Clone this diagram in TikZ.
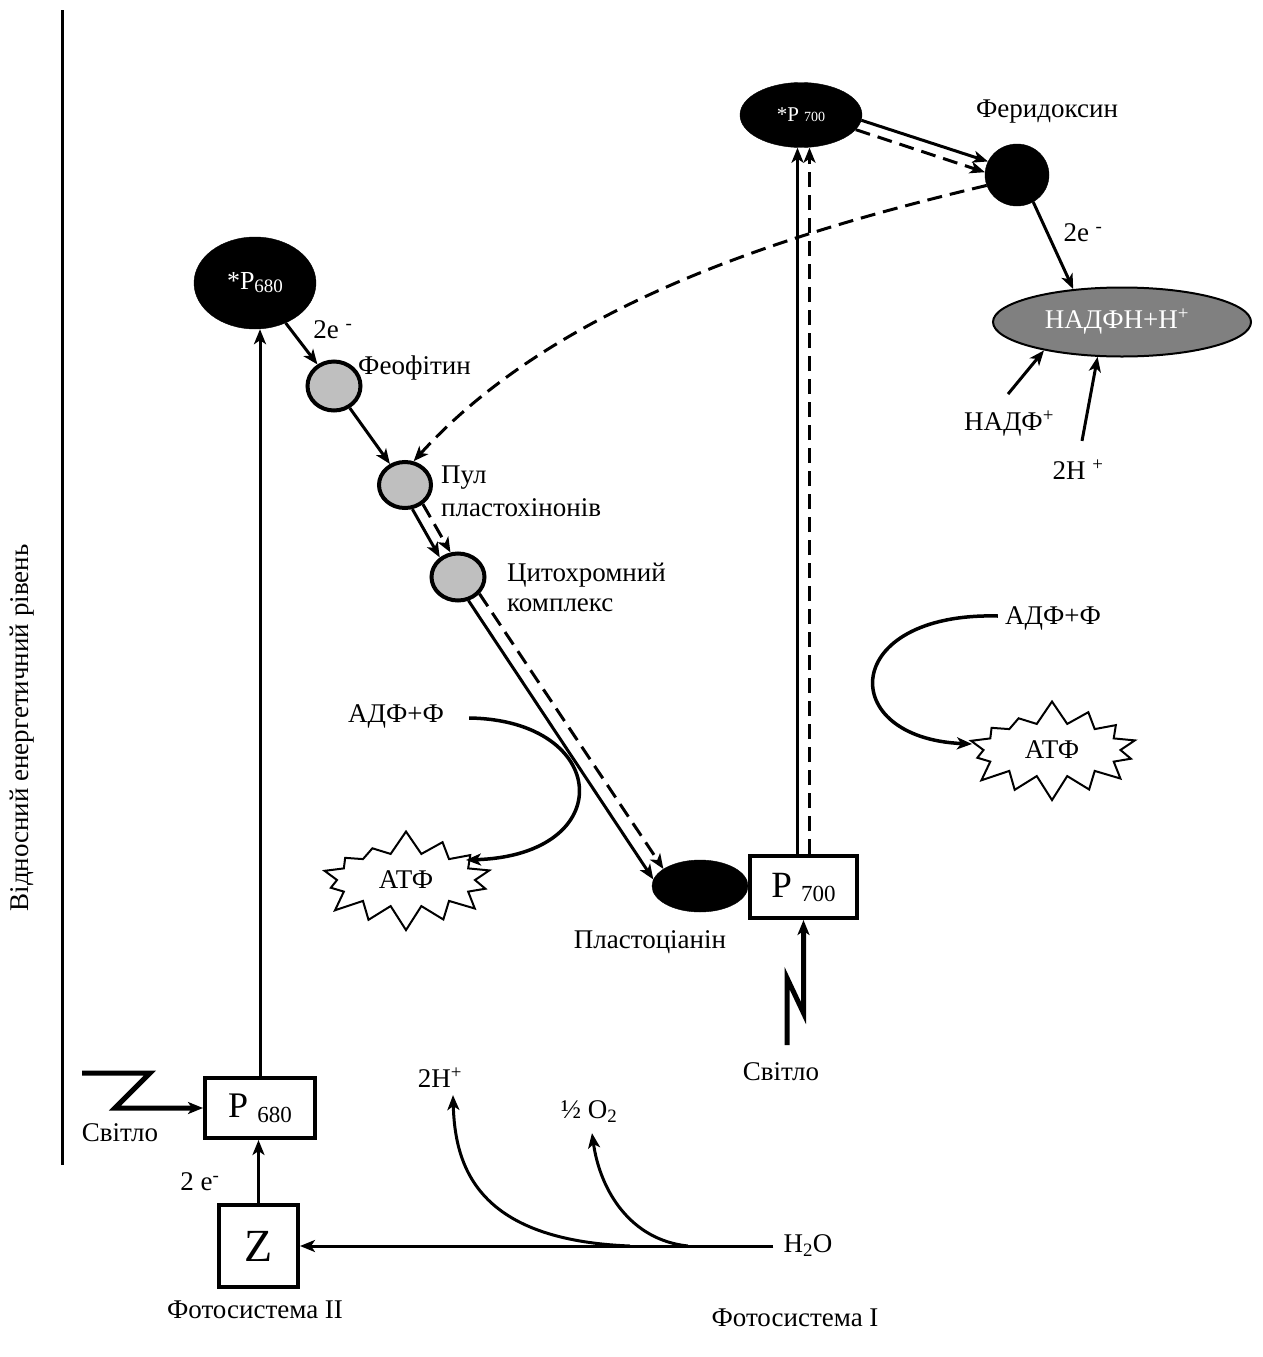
\documentclass[tikz,border=0pt]{standalone}
\usepackage{fontspec}
\setmainfont{Liberation Serif}
\usetikzlibrary{arrows.meta,shapes.geometric,shapes.symbols}
\newcommand\setfs[1]{\fontsize{#1}{#1}\selectfont}
\begin{document}
\begin{tikzpicture}[x=1pt,y=-1pt,
  >={Stealth[length=15pt,width=12pt,inset=4pt]},
  flow/.style={->,line width=3pt},
  dflow/.style={->,line width=3pt,dash pattern=on 15pt off 8pt},
  curl/.style={->,line width=3.5pt},
  txt/.style={inner sep=0pt,font=\setfs{27}},
  darkell/.style={ellipse,fill=black,draw=black,inner sep=0pt,text=white},
  carrier/.style={ellipse,fill=gray!50,draw=black,line width=4pt,inner sep=0pt},
  centre/.style={rectangle,draw=black,line width=4pt,fill=white,inner sep=0pt},
  burst/.style={starburst,draw=black,line width=2pt,fill=white,starburst points=14,
    starburst point height=24pt,random starburst=7,inner xsep=14pt,inner ysep=10pt,
    font=\setfs{27}},
  bolt/.style={->,line width=5pt,miter limit=10},
]
\useasboundingbox (0,0) rectangle (1262,1357);

% energy axis
\draw[line width=3pt] (62,10) -- (62,1165);
\node[txt,rotate=90] (axis) at (22,728) {Відносний енергетичний рівень};

% photosystem II
\node[centre,minimum width=110pt,minimum height=60pt] (p680) at (260,1108)
  {\setfs{36}P \raisebox{-5pt}{\setfs{23}680}};
\node[centre,minimum width=79pt,minimum height=82pt] (z) at (258.5,1246) {\setfs{46}Z};
\node[darkell,minimum width=122pt,minimum height=92pt] (sp680) at (255,283)
  {\setfs{26}*P\raisebox{-3pt}{\setfs{19}680}};

% electron carriers
\node[carrier,minimum width=53pt,minimum height=49pt] (feo) at (334,386) {};
\node[carrier,minimum width=52pt,minimum height=46pt] (pool) at (405,485) {};
\node[carrier,minimum width=53pt,minimum height=47pt] (cyto) at (458,577) {};
\node[darkell,minimum width=96pt,minimum height=52pt] (pc) at (700,886) {};

% photosystem I
\node[centre,minimum width=107pt,minimum height=62pt] (p700) at (803.5,887)
  {\setfs{37}P \raisebox{-4pt}{\setfs{23}700}};
\node[darkell,minimum width=122pt,minimum height=65pt] (sp700) at (801,115)
  {\setfs{21}*P \setfs{14}700};
\node[darkell,minimum width=64pt,minimum height=62pt] (fd) at (1017,175) {};
\node[ellipse,fill=gray,draw=black,line width=2pt,minimum width=258pt,minimum height=69pt,
  inner sep=0pt,text=white] (nadph) at (1122,322) {\hspace*{-10pt}\setfs{27}НАДФН+Н\textsuperscript{+}};

% labels
\node[txt,anchor=west] (lfeo) at (358,368) {Феофітин};
\node[txt,anchor=west,align=left,font=\fontsize{27}{33}\selectfont] (lpool) at (441,491)
  {Пул\\пластохінонів};
\node[txt,anchor=west,align=left,font=\fontsize{27}{30}\selectfont] (lcyto) at (507,587)
  {Цитохромний\\комплекс};
\node[txt] (lpc) at (650,942) {Пластоціанін};
\node[txt] (lfd) at (1047,112) {Феридоксин};
\node[txt] (e1) at (333,330) {2e \textsuperscript{-}};
\node[txt] (e2) at (1083,233) {2e \textsuperscript{-}};
\node[txt] (nadp) at (1009,424) {НАДФ\textsuperscript{+}};
\node[txt] (hr) at (1078,470) {2H \textsuperscript{+}};
\node[txt] (adpL) at (396,716) {АДФ+Ф};
\node[burst,minimum width=186pt,minimum height=86pt] (atpL) at (406,880) {АТФ};
\node[txt] (adpR) at (1053,618) {АДФ+Ф};
\node[burst,minimum width=185pt,minimum height=92pt] (atpR) at (1052,750) {АТФ};
\node[txt] (light1) at (120,1133) {Світло};
\node[txt] (light2) at (781,1072) {Світло};
\node[txt] (e3) at (200,1182) {2 e\textsuperscript{-}};
\node[txt] (h2o) at (808,1246) {H\textsubscript{2}O};
\node[txt] (hl) at (440,1078) {2H\textsuperscript{+}};
\node[txt] (o2) at (589,1112) {½ O\textsubscript{2}};
\node[txt] (ps2) at (255,1310) {Фотосистема II};
\node[txt] (ps1) at (795,1318) {Фотосистема I};

% photosystem II transport
\draw[flow] (z.north) -- (z.north |- p680.south);
\draw[flow] (p680.north) -- (p680.north |- sp680.south);
\draw[flow] (sp680) -- (feo);
\draw[flow] (feo) -- (pool);
\draw[flow] (pool.-73) -- (cyto.133);
\draw[dflow] (pool.-47) -- (cyto.107);
\draw[flow] (cyto.-66) -- (pc.172);
\draw[dflow] (cyto.-38) -- (pc.155);

% photosystem I transport
\coordinate (s1) at ([shift={(-6,0)}]p700.north);
\coordinate (s2) at ([shift={(6,0)}]p700.north);
\draw[flow] (s1) -- (s1 |- sp700.south);
\draw[dflow] (s2) -- (s2 |- sp700.south);
\draw[flow] (sp700.-5) -- (fd.155);
\draw[dflow] (sp700.-15.5) -- (fd.175);
\draw[dflow] (fd.199) .. controls (800,230) and (560,300) .. (pool.70);
\draw[flow] (fd.-59) -- (nadph.146);
\draw[flow] ([shift={(-1,-17)}]nadp.north) -- (nadph.200);
\draw[flow] ([shift={(4,-19)}]hr.north) -- (nadph.235);

% phosphorylation
\draw[curl] ([shift={(25,2)}]adpL.east) .. controls (610,720) and (620,855) ..
  ([shift={(60,-20)}]atpL.center);
\draw[curl] ([shift={(-7,-2)}]adpR.west) .. controls (840,612) and (835,738) ..
  ([shift={(-80,-6)}]atpR.center);

% light quanta
\coordinate (b1) at (82,1073);
\draw[bolt] (b1) -- (150,1073) -- (115,1108) -- (p680.west);
\coordinate (b2) at (787,1045);
\draw[bolt] (b2) -- (787,978) -- (803.5,1013) -- (p700.south);

% water splitting
\coordinate (w1) at (630,1246);
\coordinate (w2) at (688,1246);
\draw[flow] ([shift={(-10,0)}]h2o.west) -- (z.east);
\draw[flow] (w1) .. controls (480,1240) and (455,1170) .. ([shift={(13,7)}]hl.south);
\draw[flow] (w2) .. controls (630,1240) and (600,1190) .. ([shift={(3,10)}]o2.south);
\end{tikzpicture}
\end{document}
